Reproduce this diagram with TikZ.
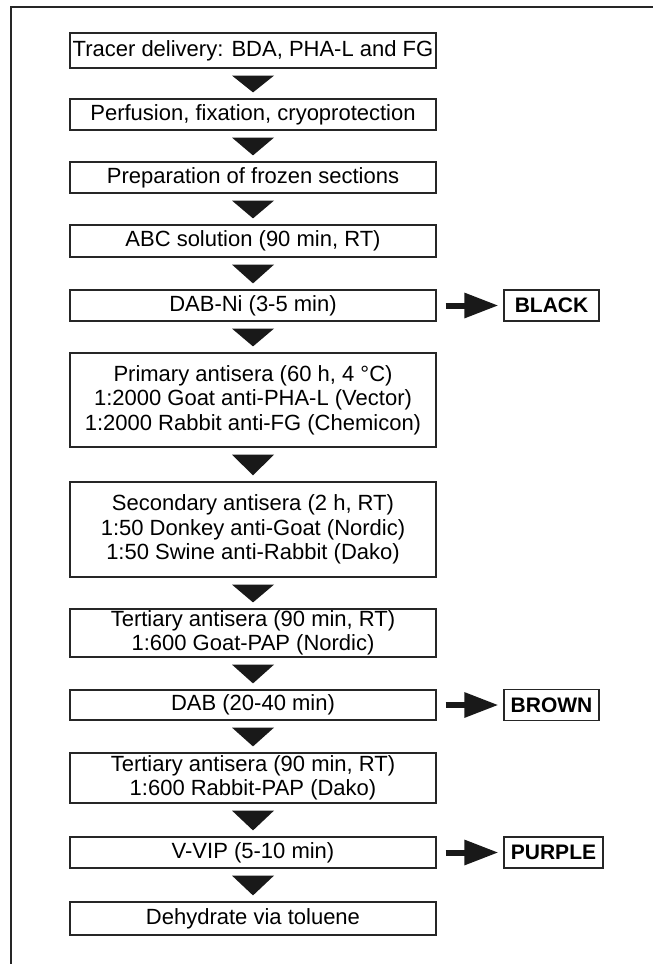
\documentclass[tikz,border=0pt]{standalone}
\usepackage{fontspec}
\setmainfont{Liberation Sans}
\usetikzlibrary{arrows.meta,calc}
\newcommand\downtri[2]{\fill[black!90] ($(#1.south)+(-21,7)$) -- ($(#1.south)+(21,7)$) -- ($(#2.north)+(0,-6)$) -- cycle;}
\begin{document}
\begin{tikzpicture}[x=1pt,y=-1pt,
  stepbox/.style={draw=black!85, line width=1.2pt, minimum width=366pt, inner sep=0pt, align=center, font=\fontsize{22}{24.5}\selectfont},
  labelbox/.style={draw=black!85, line width=1.2pt, minimum width=95pt, minimum height=31pt, inner sep=3pt, font=\fontsize{21}{24}\selectfont\bfseries},
  bigarrow/.style={draw=black!90, line width=6pt, -{Triangle[length=34pt,width=24pt]}, shorten >=5pt}]
\useasboundingbox (0,0) rectangle (653,964);
\clip (0,0) rectangle (653,964);
\draw[line width=2pt, black!85] (11,990) -- (11,7) -- (680,7);

\node[stepbox, minimum height=35pt] (b1) at (253,50.5) {Tracer delivery: BDA, PHA-L and FG};
\node[stepbox, minimum height=31pt] (b2) at (253,114.5) {Perfusion, fixation, cryoprotection};
\node[stepbox, minimum height=31pt] (b3) at (253,177.5) {Preparation of frozen sections};
\node[stepbox, minimum height=32pt] (b4) at (253,241) {ABC solution (90 min, RT)};
\node[stepbox, minimum height=31pt] (b5) at (253,305.5) {DAB-Ni (3-5 min)};
\node[stepbox, minimum height=94pt] (b6) at (253,400) {Primary antisera (60 h, 4 °C)\\1:2000 Goat anti-PHA-L (Vector)\\1:2000 Rabbit anti-FG (Chemicon)};
\node[stepbox, minimum height=95pt] (b7) at (253,529.5) {Secondary antisera (2 h, RT)\\1:50 Donkey anti-Goat (Nordic)\\1:50 Swine anti-Rabbit (Dako)};
\node[stepbox, minimum height=48pt] (b8) at (253,633) {Tertiary antisera (90 min, RT)\\1:600 Goat-PAP (Nordic)};
\node[stepbox, minimum height=30pt] (b9) at (253,705) {DAB (20-40 min)};
\node[stepbox, minimum height=50pt] (b10) at (253,778) {Tertiary antisera (90 min, RT)\\1:600 Rabbit-PAP (Dako)};
\node[stepbox, minimum height=31pt] (b11) at (253,852.5) {V-VIP (5-10 min)};
\node[stepbox, minimum height=33pt] (b12) at (253,918.5) {Dehydrate via toluene};

\node[labelbox] (black) at (551.5,305.5) {BLACK};
\node[labelbox] (brown) at (551.5,705) {BROWN};
\node[labelbox, minimum width=99pt] (purple) at (553.5,852.5) {PURPLE};

\downtri{b1}{b2}
\downtri{b2}{b3}
\downtri{b3}{b4}
\downtri{b4}{b5}
\downtri{b5}{b6}
\downtri{b6}{b7}
\downtri{b7}{b8}
\downtri{b8}{b9}
\downtri{b9}{b10}
\downtri{b10}{b11}
\downtri{b11}{b12}

\draw[bigarrow] ($(b5.east)+(9,0)$) -- (black.west);
\draw[bigarrow] ($(b9.east)+(9,0)$) -- (brown.west);
\draw[bigarrow] ($(b11.east)+(9,0)$) -- (purple.west);
\end{tikzpicture}
\end{document}
